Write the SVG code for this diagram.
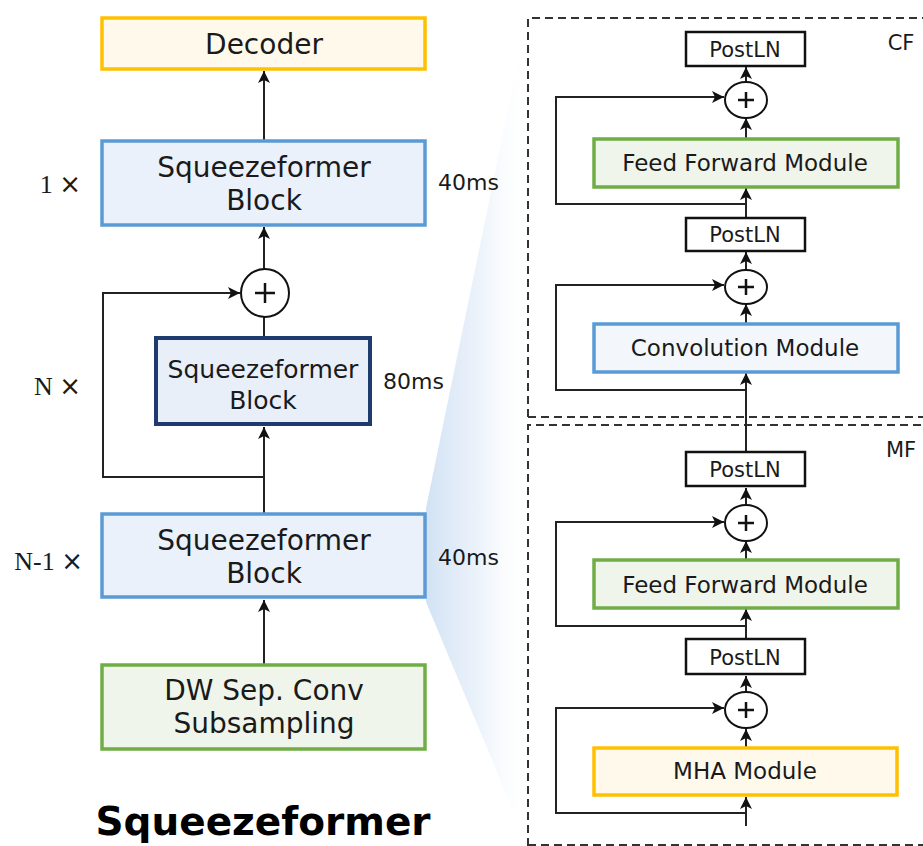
<svg xmlns="http://www.w3.org/2000/svg" width="923" height="846" viewBox="0 0 923 846">
  <style>
    .t { font-family: "DejaVu Sans", Verdana, sans-serif; fill: #1a1a1a; text-anchor: middle; }
    .big { font-size: 28px; }
    .mid { font-size: 25px; }
    .mod { font-size: 23px; }
    .ln { font-size: 21px; }
    .ms { font-size: 22px; text-anchor: start; }
    .rep { font-family: "Liberation Serif", "Times New Roman", serif; font-size: 26px; fill: #1a1a1a; text-anchor: end; }
    .x { font-family: "DejaVu Sans", Verdana, sans-serif; font-size: 26px; }
    .title { font-family: "DejaVu Sans", Verdana, sans-serif; font-weight: bold; font-size: 39px; fill: #000; text-anchor: middle; }
    .yel { fill: #FFF9EC; stroke: #FFC000; stroke-width: 3.5; }
    .blu { fill: #EAF1FA; stroke: #5B9BD5; stroke-width: 3.5; }
    .blu2 { fill: #F3F7FC; stroke: #5B9BD5; stroke-width: 3.5; }
    .nav { fill: #E8EFF9; stroke: #1F3A6E; stroke-width: 4; }
    .grn { fill: #EFF5EA; stroke: #70AD47; stroke-width: 3.5; }
    .ln-box { fill: #ffffff; stroke: #111; stroke-width: 2.5; }
    .sum { fill: #ffffff; stroke: #111; stroke-width: 2; }
    .plus { stroke: #111; stroke-width: 2.5; fill: none; }
    .wire { fill: none; stroke: #222; stroke-width: 2; }
    .arr { marker-end: url(#ah); }
    .dash { fill: none; stroke: #333; stroke-width: 2; stroke-dasharray: 8 5; }
  </style>
  <defs>
    <marker id="ah" viewBox="0 0 10 10" refX="10" refY="5" markerWidth="6" markerHeight="6" orient="auto" markerUnits="strokeWidth">
      <path d="M0,0 L10,5 L0,10 L2.5,5 Z" fill="#111"/>
    </marker>
    <linearGradient id="fan" x1="426" y1="0" x2="530" y2="0" gradientUnits="userSpaceOnUse">
      <stop offset="0" stop-color="#D2E2F4" stop-opacity="1"/>
      <stop offset="0.5" stop-color="#E6EFF9" stop-opacity="0.8"/>
      <stop offset="1" stop-color="#FFFFFF" stop-opacity="0"/>
    </linearGradient>
  </defs>

  <rect width="923" height="846" fill="#ffffff"/>

  <!-- zoom fan from the block to the expanded view -->
  <path d="M426,508 L528,12 L528,846 L426,602 Z" fill="url(#fan)"/>

  <!-- expanded block frames -->
  <g id="cf-frame">
    <path class="dash" d="M528,417 L528,18 L930,18"/>
    <path class="dash" d="M528,417 L930,417"/>
    <text class="t ln" x="901" y="50">CF</text>
  </g>
  <g id="mf-frame">
    <path class="dash" d="M528,846 L528,425 L930,425"/>
    <path class="dash" d="M528,845 L930,845"/>
    <text class="t ln" x="901" y="457">MF</text>
  </g>

  <g id="connectors">
    <!-- left stack -->
    <line class="wire arr" x1="264" y1="140" x2="264" y2="71"/>
    <line class="wire arr" x1="264" y1="269" x2="264" y2="227"/>
    <line class="wire" x1="264" y1="317" x2="264" y2="337"/>
    <line class="wire arr" x1="264" y1="513" x2="264" y2="427"/>
    <polyline class="wire arr" points="264,477 103,477 103,293 240,293"/>
    <line class="wire arr" x1="264" y1="664" x2="264" y2="600"/>

    <!-- CF -->
    <line class="wire arr" x1="746" y1="82" x2="746" y2="67"/>
    <line class="wire arr" x1="746" y1="138" x2="746" y2="118"/>
    <line class="wire arr" x1="746" y1="217" x2="746" y2="188"/>
    <polyline class="wire arr" points="746,204 556,204 556,97 724,97"/>
    <line class="wire arr" x1="746" y1="269" x2="746" y2="252"/>
    <line class="wire arr" x1="746" y1="323" x2="746" y2="304"/>
    <line class="wire arr" x1="746" y1="451" x2="746" y2="373"/>
    <polyline class="wire arr" points="746,390 556,390 556,285 724,285"/>

    <!-- MF -->
    <line class="wire arr" x1="746" y1="505" x2="746" y2="488"/>
    <line class="wire arr" x1="746" y1="559" x2="746" y2="541"/>
    <line class="wire arr" x1="746" y1="638" x2="746" y2="609"/>
    <polyline class="wire arr" points="746,626 556,626 556,522 724,522"/>
    <line class="wire arr" x1="746" y1="691" x2="746" y2="676"/>
    <line class="wire arr" x1="746" y1="747" x2="746" y2="729"/>
    <line class="wire arr" x1="746" y1="826" x2="746" y2="797"/>
    <polyline class="wire arr" points="746,813 556,813 556,708 724,708"/>
  </g>

  <!-- left stack nodes -->
  <g id="decoder">
    <rect class="yel" x="102" y="18" width="323" height="51"/>
    <text class="t big" x="264" y="54">Decoder</text>
  </g>
  <g id="block-top">
    <rect class="blu" x="102" y="141" width="323" height="84"/>
    <text class="t big" x="264" y="177">Squeezeformer</text>
    <text class="t big" x="264" y="210">Block</text>
    <text class="rep" x="81" y="193">1 <tspan class="x">×</tspan></text>
    <text class="t ms" x="438" y="190">40ms</text>
  </g>
  <g id="sum-left">
    <circle class="sum" cx="265" cy="293" r="24"/>
    <path class="plus" d="M255,293 H275 M265,283 V303"/>
  </g>
  <g id="block-80ms">
    <rect class="nav" x="156" y="338" width="214" height="86"/>
    <text class="t mid" x="263" y="378">Squeezeformer</text>
    <text class="t mid" x="263" y="409">Block</text>
    <text class="rep" x="81" y="395">N <tspan class="x">×</tspan></text>
    <text class="t ms" x="383" y="389">80ms</text>
  </g>
  <g id="block-bottom">
    <rect class="blu" x="102" y="514" width="323" height="83"/>
    <text class="t big" x="264" y="550">Squeezeformer</text>
    <text class="t big" x="264" y="583">Block</text>
    <text class="rep" x="83" y="570">N-1 <tspan class="x">×</tspan></text>
    <text class="t ms" x="438" y="565">40ms</text>
  </g>
  <g id="subsampling">
    <rect class="grn" x="102" y="665" width="323" height="84"/>
    <text class="t big" x="264" y="700">DW Sep. Conv</text>
    <text class="t big" x="264" y="733">Subsampling</text>
  </g>
  <g id="title">
    <text class="title" x="263" y="835">Squeezeformer</text>
  </g>

  <!-- CF half -->
  <g id="cf-postln-top">
    <rect class="ln-box" x="686" y="32" width="119" height="34"/>
    <text class="t ln" x="745" y="57">PostLN</text>
  </g>
  <g id="cf-sum-ffm">
    <ellipse class="sum" cx="746" cy="100" rx="21" ry="18"/>
    <path class="plus" d="M738,100 H754 M746,92 V108"/>
  </g>
  <g id="cf-ffm">
    <rect class="grn" x="594" y="139" width="304" height="48"/>
    <text class="t mod" x="745" y="171">Feed Forward Module</text>
  </g>
  <g id="cf-postln-mid">
    <rect class="ln-box" x="686" y="218" width="119" height="33"/>
    <text class="t ln" x="745" y="242">PostLN</text>
  </g>
  <g id="cf-sum-conv">
    <ellipse class="sum" cx="746" cy="287" rx="21" ry="17"/>
    <path class="plus" d="M738,287 H754 M746,279 V295"/>
  </g>
  <g id="cf-conv">
    <rect class="blu2" x="594" y="324" width="304" height="48"/>
    <text class="t mod" x="745" y="356">Convolution Module</text>
  </g>

  <!-- MF half -->
  <g id="mf-postln-top">
    <rect class="ln-box" x="686" y="452" width="119" height="34"/>
    <text class="t ln" x="745" y="477">PostLN</text>
  </g>
  <g id="mf-sum-ffm">
    <ellipse class="sum" cx="746" cy="523" rx="21" ry="18"/>
    <path class="plus" d="M738,523 H754 M746,515 V531"/>
  </g>
  <g id="mf-ffm">
    <rect class="grn" x="594" y="560" width="304" height="48"/>
    <text class="t mod" x="745" y="593">Feed Forward Module</text>
  </g>
  <g id="mf-postln-mid">
    <rect class="ln-box" x="686" y="639" width="119" height="35"/>
    <text class="t ln" x="745" y="665">PostLN</text>
  </g>
  <g id="mf-sum-mha">
    <ellipse class="sum" cx="746" cy="710" rx="21" ry="18"/>
    <path class="plus" d="M738,710 H754 M746,702 V718"/>
  </g>
  <g id="mf-mha">
    <rect class="yel" x="594" y="748" width="303" height="47"/>
    <text class="t mod" x="745" y="779">MHA Module</text>
  </g>
</svg>
